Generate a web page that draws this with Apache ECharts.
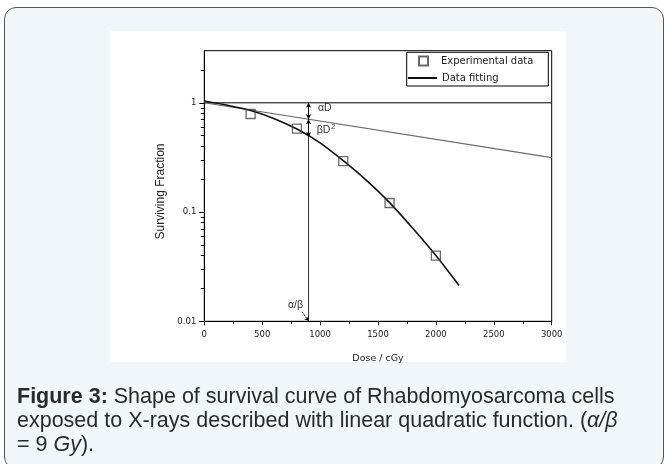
<!DOCTYPE html>
<html>
<head>
<meta charset="utf-8">
<script src="https://cdn.jsdelivr.net/npm/echarts@6/dist/echarts.min.js"></script>
<style>
  html, body { margin: 0; padding: 0; background: #fff; width: 667px; height: 464px; overflow: hidden; }
  #panel { position: absolute; left: 4px; top: 7px; width: 660px; height: 462px; box-sizing: border-box;
           border: 1.5px solid #555; border-radius: 12px; background: #f1f6fa; }
  #white { position: absolute; left: 110px; top: 31px; width: 456px; height: 331px; background: #fff; }
  #chart { position: absolute; left: 0; top: 0; width: 667px; height: 464px; }
  #caption { position: absolute; left: 17px; top: 383.5px; width: 645px; font-family: "Liberation Sans", Arial, sans-serif;
             font-size: 21.5px; line-height: 24px; color: #2a2a2a; white-space: nowrap; }
</style>
</head>
<body>
<div id="panel"></div>
<div id="white"></div>
<div id="chart"></div>
<div id="caption"><b>Figure 3:</b> Shape of survival curve of Rhabdomyosarcoma cells<br>exposed to X-rays described with linear quadratic function. (<i>α/β</i><br>= 9 <i>Gy</i>).</div>
<script>
// ---- data ----
const expDoses = [400, 800, 1200, 1600, 2000];
const expSurvival = [0.79, 0.58, 0.293, 0.121, 0.040];

const fitDoses = [0, 200, 400, 600, 800, 1000, 1200, 1400, 1600, 1800, 2000, 2200];
const fitSurvival = [1.04, 0.95, 0.85, 0.72, 0.575, 0.43, 0.295, 0.195, 0.122, 0.071, 0.040, 0.0213];

const linearDoses = [0, 3000];
const linearSurvival = [1.0, 0.315];

const refDoses = [0, 3000];
const refSurvival = [1, 1];

const alphaBetaDose = 900;
const linearAtAB = 0.707;
const fitAtAB = 0.486;

const yMajorTicks = [0.01, 0.1, 1];
const yMinorTicks = [0.02, 0.03, 0.04, 0.05, 0.06, 0.07, 0.08, 0.09,
                     0.2, 0.3, 0.4, 0.5, 0.6, 0.7, 0.8, 0.9, 2];
const xMin = 0, xMax = 3000, xInterval = 500;
const yMin = 0.01, yMax = 3;

const zip = (a, b) => a.map((v, i) => [v, b[i]]);

const chart = echarts.init(document.getElementById('chart'), null, { renderer: 'canvas' });
const smallFont = 'DejaVu Sans';
const yAxisBase = {
  type: 'log', logBase: 10, min: yMin, max: yMax, position: 'left', gridIndex: 0,
  splitLine: { show: false }, minorTick: { show: false }, minorSplitLine: { show: false }
};
chart.setOption({
  animation: false,
  grid: { left: 204.3, right: 115.3, top: 50.7, bottom: 142.7, show: true, borderColor: '#000', borderWidth: 1, backgroundColor: 'transparent' },
  xAxis: {
    type: 'value', min: xMin, max: xMax, interval: xInterval,
    name: 'Dose / cGy', nameLocation: 'middle', nameGap: 32,
    nameTextStyle: { fontFamily: smallFont, fontSize: 9.5, color: '#222' },
    axisLine: { show: true, lineStyle: { color: '#000', width: 1 } },
    axisTick: { show: true, inside: false, length: 4, lineStyle: { color: '#000' } },
    minorTick: { show: true, splitNumber: 2, length: 2.5, lineStyle: { color: '#000' } },
    axisLabel: { fontFamily: smallFont, fontSize: 8.5, color: '#222', margin: 9, formatter: v => String(v) },
    splitLine: { show: false }, minorSplitLine: { show: false }
  },
  yAxis: [
    Object.assign({}, yAxisBase, {
      name: 'Surviving Fraction', nameLocation: 'middle', nameGap: 38,
      nameTextStyle: { fontFamily: 'Liberation Sans', fontSize: 12, color: '#222', padding: [0, 11, 0, 0] },
      axisLine: { show: true, lineStyle: { color: '#000', width: 1 } },
      axisTick: { show: true, inside: false, length: 5, customValues: yMajorTicks, lineStyle: { color: '#000' } },
      axisLabel: { show: true, customValues: yMajorTicks, formatter: v => String(+v.toPrecision(3)),
                   fontFamily: smallFont, fontSize: 8.5, color: '#222', margin: 8 }
    }),
    Object.assign({}, yAxisBase, {
      axisLine: { show: false },
      axisTick: { show: true, inside: false, length: 3.5, customValues: yMinorTicks, lineStyle: { color: '#000' } },
      axisLabel: { show: false }
    })
  ],
  legend: [
    { data: ['Experimental data'], left: 418, top: 55.5, padding: 0, itemWidth: 9, itemHeight: 9,
      textStyle: { fontFamily: smallFont, fontSize: 10, color: '#222', padding: [0, 0, 0, 8] }, selectedMode: false },
    { data: [{ name: 'Data fitting', itemStyle: { opacity: 0 } }], left: 407, top: 73, padding: 0, itemWidth: 29, itemHeight: 9,
      textStyle: { fontFamily: smallFont, fontSize: 10, color: '#222' }, selectedMode: false }
  ],
  graphic: [
    { type: 'rect', shape: { x: 406.7, y: 52.3, width: 141.6, height: 33.7 },
      style: { fill: 'none', stroke: '#000', lineWidth: 1 }, z: 10, silent: true }
  ],
  series: [
    { name: 'reference level', type: 'line', data: zip(refDoses, refSurvival), symbol: 'none',
      lineStyle: { color: '#000', width: 1 }, z: 2, silent: true },
    { name: 'linear component', type: 'line', data: zip(linearDoses, linearSurvival), symbol: 'none',
      lineStyle: { color: '#6a6a6a', width: 1.1 }, z: 2, silent: true },
    { name: 'alpha/beta', type: 'line', data: [[alphaBetaDose, 1], [alphaBetaDose, yMin]], symbol: 'none',
      lineStyle: { color: '#333', width: 1 }, z: 2, silent: true,
      markLine: {
        silent: true, animation: false, label: { show: false },
        lineStyle: { color: '#000', width: 1, type: 'solid' },
        symbol: ['arrow', 'arrow'], symbolSize: [4, 5],
        data: [
          [{ coord: [alphaBetaDose, 1] }, { coord: [alphaBetaDose, linearAtAB] }],
          [{ coord: [alphaBetaDose, linearAtAB] }, { coord: [alphaBetaDose, fitAtAB] }],
          [{ coord: [844, 0.0122], symbol: 'none', lineStyle: { type: [2, 1] } }, { coord: [alphaBetaDose, 0.0101], symbol: 'arrow', symbolSize: [4, 4] }]
        ]
      },
      markPoint: {
        silent: true, animation: false, symbol: 'circle', symbolSize: 0,
        label: { show: true, position: 'inside', fontFamily: 'Liberation Sans', fontSize: 10.5, color: '#333',
                 formatter: p => p.name,
                 rich: { sup: { fontSize: 7, verticalAlign: 'top', padding: [0, 0, 6, 1], fontFamily: 'Liberation Sans', color: '#333' } } },
        data: [
          { name: 'αD', coord: [1040, 0.9] },
          { name: 'βD{sup|2}', coord: [1050, 0.567] },
          { name: 'α/β', coord: [788, 0.01415] }
        ]
      }
    },
    { name: 'Data fitting', type: 'line', data: zip(fitDoses, fitSurvival), symbol: 'none', smooth: 0.25,
      lineStyle: { color: '#111', width: 1.6 }, itemStyle: { color: '#111' }, z: 3 },
    { name: 'Experimental data', type: 'scatter', data: zip(expDoses, expSurvival), symbol: 'rect', symbolSize: 9,
      itemStyle: { color: 'rgba(255,255,255,0)', borderColor: '#444', borderWidth: 1.3 }, z: 4 }
  ]
});
</script>
</body>
</html>
